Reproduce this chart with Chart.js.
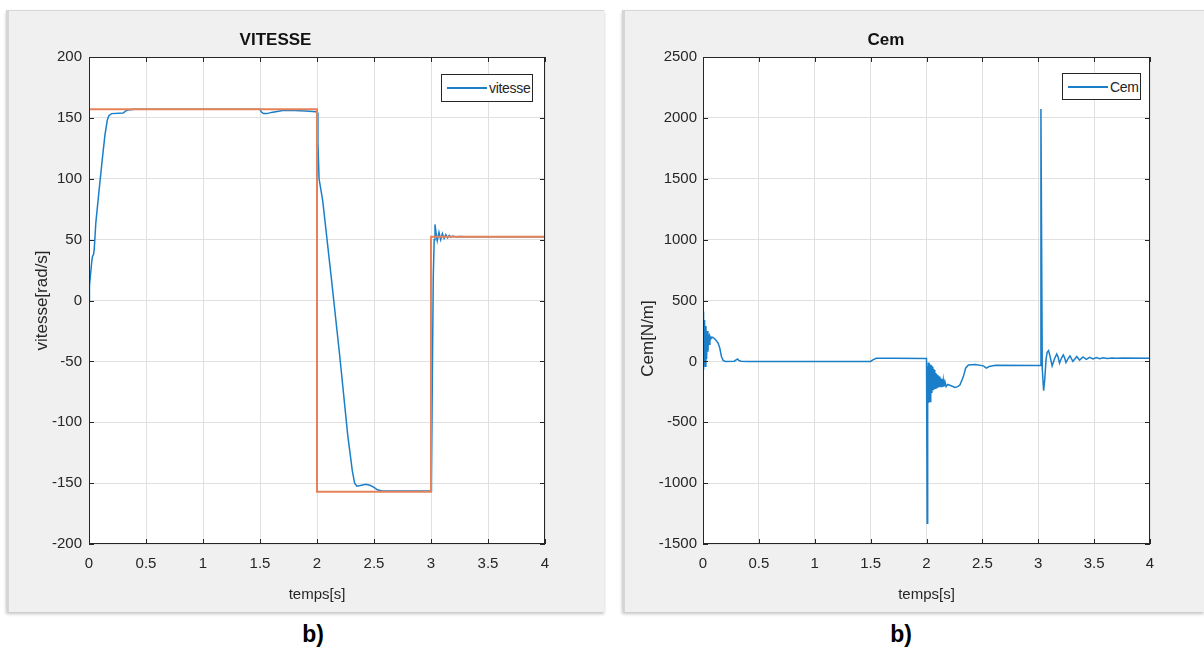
<!DOCTYPE html>
<html>
<head>
<meta charset="utf-8">
<title>VITESSE - Cem</title>
<script src="https://cdn.jsdelivr.net/npm/chart.js@4.4.1/dist/chart.umd.min.js"></script>
<style>
    body { margin: 0; width: 1204px; height: 650px; background: #fff; position: relative; overflow: hidden; }
    .panel { position: absolute; top: 10px; height: 602px; background: #f0f0f0;
             box-shadow: inset 3px 1px 0 #d6d6d6, 0 2px 3px #c4c4c4; }
    .panel canvas { position: absolute; left: 0; top: 0; }
    .legend { position: absolute; background: #fff; border: 1px solid #262626; box-sizing: border-box;
              display: flex; align-items: center; padding-left: 5px;
              font: 14px 'Liberation Sans', Arial, sans-serif; color: #262626; letter-spacing: -0.3px; }
    .legend .swatch { display: inline-block; width: 40px; height: 2px; margin-right: 2px; }
    .caption { position: absolute; top: 621px; width: 60px; margin-left: -30px; text-align: center;
               font: bold 23px 'Liberation Sans', Arial, sans-serif; color: #000; }
</style>
</head>
<body>
<div class="panel" id="panelVitesse" style="left:6px; width:598px;">
    <canvas id="vitesseChart" width="598" height="602"></canvas>
</div>
<div class="panel" id="panelCem" style="left:622px; width:582px;">
    <canvas id="cemChart" width="582" height="602"></canvas>
</div>
<div class="caption" style="left:313px;">b)</div>
<div class="caption" style="left:901px;">b)</div>

<script>
// temps [s] et vitesse mesurée [rad/s]
const tVitesse = [0, 0.004, 0.012, 0.022, 0.03, 0.04, 0.046, 0.06, 0.09, 0.12, 0.14, 0.16, 0.175, 0.2, 0.3, 0.32, 0.34, 0.4,
    1.5, 1.51, 1.53, 1.56, 1.6, 1.7, 1.8, 1.9, 1.99, 2.0, 2.008, 2.018, 2.05, 2.125, 2.2, 2.27, 2.31, 2.33, 2.35, 2.38,
    2.43, 2.47, 2.5, 2.53, 2.57, 2.7, 3.0, 3.004, 3.012, 3.02, 3.028, 3.035, 3.045, 3.055, 3.07, 3.085, 3.1, 3.115,
    3.13, 3.145, 3.16, 3.175, 3.19, 3.22, 3.25, 3.3, 4.0];
const vitesse = [0, 12, 20, 30, 36, 38, 42, 64, 92, 119, 136, 148, 152, 153.5, 154, 155.5, 156.5, 157,
    157, 155, 153.5, 153.5, 154.5, 156, 156, 155.7, 155, 154.5, 130, 100, 82, 19, -46, -111, -140, -150, -152.5, -152,
    -151, -152, -153.5, -155.5, -156.5, -156.5, -156.5, -150, -60, 20, 50, 62.5, 55, 49, 56, 50, 55, 51,
    54, 51.5, 53.5, 52, 53, 52.2, 52.6, 52.4, 52.4];

// consigne de vitesse (échelons)
const tConsigne = [0, 2, 2, 3, 3, 4];
const consigne = [157, 157, -157, -157, 52.36, 52.36];

// couple électromagnétique [N.m]
const tCem = [0, 0.002, 0.008, 0.014, 0.02, 0.026, 0.032, 0.038, 0.044, 0.05, 0.056, 0.062, 0.07, 0.08, 0.1, 0.12,
    0.135, 0.15, 0.165, 0.18, 0.2,
    0.28, 0.3, 0.31, 0.32, 0.34, 0.4,
    1.5, 1.52, 1.55, 1.7, 2.0,
    2.004, 2.006, 2.009, 2.012, 2.016, 2.02, 2.024,
    2.028, 2.032, 2.036, 2.04, 2.044, 2.048, 2.052, 2.056, 2.06, 2.064, 2.068, 2.072, 2.076, 2.08, 2.084, 2.088,
    2.092, 2.096, 2.1, 2.104, 2.108, 2.112, 2.116, 2.12, 2.126, 2.132, 2.138, 2.144, 2.15, 2.156, 2.165, 2.175,
    2.19, 2.22, 2.255, 2.28, 2.3, 2.33, 2.35, 2.375, 2.435, 2.51, 2.535, 2.56, 2.62, 3.0,
    3.018, 3.024, 3.036, 3.048, 3.058, 3.07, 3.08, 3.092, 3.105, 3.124, 3.145, 3.165, 3.178, 3.19, 3.207, 3.224,
    3.236, 3.248, 3.266, 3.284, 3.31, 3.345, 3.37,
    3.4, 3.43, 3.46, 3.49, 3.52, 3.55, 3.58, 3.62, 3.66, 3.7, 3.75, 4.0];
const cem = [0, 409, -70, 340, -40, 290, 20, 250, 80, 220, 140, 205, 185, 200, 190, 170,
    150, 110, 40, 8, 0,
    2, 15, 20, 8, 2, 0,
    0, 12, 26, 26, 24,
    24, -1329, -40, -371, -10, -340, -15,
    -15, -330, -25, -290, -35, -260, -45, -240, -60, -234, -70, -225, -84, -220, -95, -214,
    -105, -210, -112, -207, -118, -206, -125, -207, -135, -207, -145, -207, -155, -208, -166, -207,
    -190, -200, -215, -208, -193, -125, -56, -29, -26, -37, -56, -42, -31, -34,
    -34, 2073, -60, -240, -150, 20, 75, 89, 45, -37, 20, 61, 35, -15, 25, 53,
    30, -10, 20, 45, 0, 40, 10,
    36, 16, 33, 20, 31, 22, 29, 24, 28, 25, 27, 26];

const ticksTemps = [0, 0.5, 1, 1.5, 2, 2.5, 3, 3.5, 4];

const FONT = "'Liberation Sans', Arial, sans-serif";
const BLEU = '#1a7fc8';
const ORANGE = '#e5825a';

Chart.defaults.font.family = FONT;
Chart.defaults.color = '#262626';

function points(t, y) {
    return t.map((x, i) => ({ x: x, y: y[i] }));
}

// fond blanc du tracé + cadre noir avec graduations vers l'intérieur
const cadre = {
    id: 'cadre',
    beforeDraw(chart) {
        const { ctx, chartArea: a } = chart;
        ctx.save();
        ctx.fillStyle = '#fff';
        ctx.fillRect(a.left, a.top, a.width, a.height);
        ctx.restore();
    },
    afterDraw(chart) {
        const { ctx, chartArea: a, scales } = chart;
        ctx.save();
        ctx.strokeStyle = '#262626';
        ctx.lineWidth = 1;
        ctx.strokeRect(Math.round(a.left) + 0.5, Math.round(a.top) + 0.5, Math.round(a.width) - 1, Math.round(a.height) - 1);
        ctx.beginPath();
        scales.x.ticks.forEach((t) => {
            const px = Math.round(scales.x.getPixelForValue(t.value)) + 0.5;
            ctx.moveTo(px, a.bottom); ctx.lineTo(px, a.bottom - 5);
            ctx.moveTo(px, a.top); ctx.lineTo(px, a.top + 5);
        });
        scales.y.ticks.forEach((t) => {
            const py = Math.round(scales.y.getPixelForValue(t.value)) + 0.5;
            ctx.moveTo(a.left, py); ctx.lineTo(a.left + 5, py);
            ctx.moveTo(a.right, py); ctx.lineTo(a.right - 5, py);
        });
        ctx.stroke();
        ctx.restore();
    }
};

// titre vertical de l'axe y (position réglable)
const titreY = {
    id: 'titreY',
    afterDraw(chart, args, opts) {
        const { ctx, chartArea: a } = chart;
        ctx.save();
        ctx.translate(opts.x, (a.top + a.bottom) / 2 + opts.dy);
        ctx.rotate(-Math.PI / 2);
        ctx.font = '17px ' + FONT;
        ctx.fillStyle = '#262626';
        ctx.textAlign = 'center';
        ctx.textBaseline = 'middle';
        ctx.fillText(opts.text, 0, 0);
        ctx.restore();
    }
};

function makeChart(id, cfg) {
    const ctx = document.getElementById(id).getContext('2d');
    return new Chart(ctx, {
        type: 'line',
        data: { datasets: cfg.datasets },
        options: {
            responsive: false,
            animation: false,
            devicePixelRatio: 1,
            layout: { padding: { left: 0, right: cfg.padRight, top: 0, bottom: 0 } },
            elements: { point: { radius: 0 }, line: { tension: 0 } },
            plugins: {
                legend: { display: false },
                tooltip: { enabled: false },
                title: {
                    display: true,
                    text: cfg.title,
                    color: '#111',
                    font: { size: 17, weight: 'bold' },
                    padding: { top: 20, bottom: 6.6 }
                },
                titreY: { text: cfg.yTitle, x: cfg.yTitleX, dy: cfg.yTitleDy }
            },
            scales: {
                x: {
                    type: 'linear',
                    min: 0, max: 4,
                    afterBuildTicks: (s) => { s.ticks = ticksTemps.map((v) => ({ value: v })); },
                    afterFit: (s) => { s.height = 68; },
                    border: { display: false },
                    grid: { color: '#e0e0e0', drawTicks: false },
                    ticks: { padding: 11, font: { size: 15 }, callback: (v) => String(v), maxRotation: 0 },
                    title: { display: true, text: 'temps[s]', font: { size: 15 }, padding: { top: 0, bottom: 8 } }
                },
                y: {
                    type: 'linear',
                    min: cfg.yMin, max: cfg.yMax,
                    ticks: { stepSize: cfg.yStep, padding: cfg.yPad, font: { size: 15 }, callback: (v) => String(v) },
                    afterFit: (s) => { s.width = cfg.yWidth; },
                    border: { display: false },
                    grid: { color: '#e0e0e0', drawTicks: false }
                }
            }
        },
        plugins: [cadre, titreY]
    });
}

// légende encadrée dans le coin haut droit du tracé
function addLegend(panelId, dataset, left, top, width, height) {
    const box = document.createElement('div');
    box.className = 'legend';
    box.style.left = left + 'px';
    box.style.top = top + 'px';
    box.style.width = width + 'px';
    box.style.height = height + 'px';
    const sw = document.createElement('span');
    sw.className = 'swatch';
    sw.style.background = dataset.borderColor;
    const lbl = document.createElement('span');
    lbl.textContent = dataset.label;
    box.appendChild(sw);
    box.appendChild(lbl);
    document.getElementById(panelId).appendChild(box);
}

const vitesseChart = makeChart('vitesseChart', {
    title: 'VITESSE',
    yTitle: 'vitesse[rad/s]',
    yTitleX: 36, yTitleDy: 0,
    yMin: -200, yMax: 200, yStep: 50,
    yWidth: 83, yPad: 7,
    padRight: 59,
    datasets: [
        { label: 'vitesse', data: points(tVitesse, vitesse), borderColor: BLEU, borderWidth: 1.5, order: 1 },
        { label: 'consigne', data: points(tConsigne, consigne), borderColor: ORANGE, borderWidth: 2, order: 0 }
    ]
});

const cemChart = makeChart('cemChart', {
    title: 'Cem',
    yTitle: 'Cem[N/m]',
    yTitleX: 26, yTitleDy: 38,
    yMin: -1500, yMax: 2500, yStep: 500,
    yWidth: 81, yPad: 6,
    padRight: 54,
    datasets: [
        { label: 'Cem', data: points(tCem, cem), borderColor: BLEU, borderWidth: 1.5 }
    ]
});

addLegend('panelVitesse', vitesseChart.data.datasets[0], 435, 64, 92, 28);
addLegend('panelCem', cemChart.data.datasets[0], 440, 63, 79, 27);
</script>
</body>
</html>
